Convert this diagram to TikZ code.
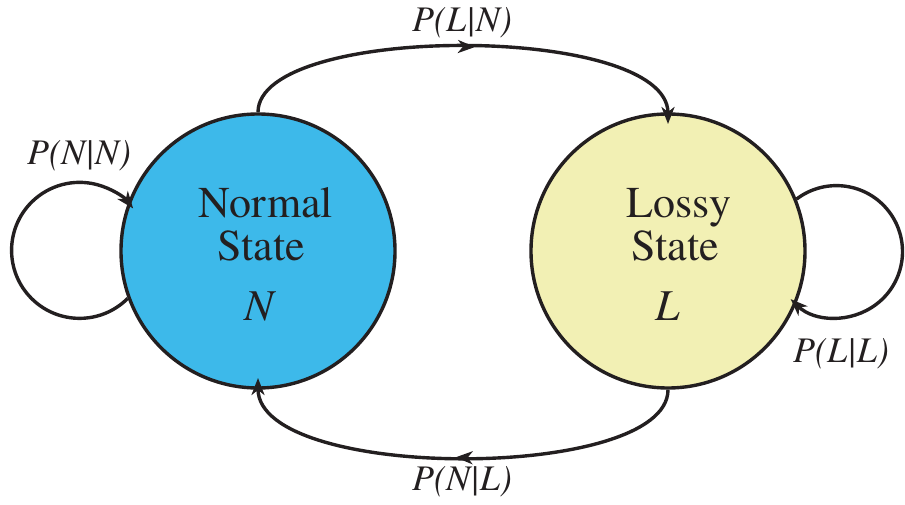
\documentclass[tikz,border=0pt]{standalone}
\usepackage{fontspec}
\newfontfamily\timesface{texgyretermes}[
  Extension=.otf,
  UprightFont=*-regular,
  ItalicFont=*-italic,
  BoldFont=*-bold,
  BoldItalicFont=*-bolditalic]
\usetikzlibrary{arrows.meta,decorations.markings}

\definecolor{normalblue}{RGB}{61,185,234}
\definecolor{lossyyellow}{RGB}{242,240,180}
\definecolor{ink}{RGB}{35,31,32}

\tikzset{
  statecircle/.style={circle, draw=ink, line width=3.4pt, minimum size=274pt, inner sep=0pt},
  statetext/.style={anchor=base, text=ink, inner sep=0pt, font=\timesface\fontsize{44}{44}\selectfont},
  problabel/.style={anchor=base, text=ink, inner sep=0pt, font=\timesface\fontsize{36}{36}\selectfont\itshape},
  tip/.tip={Stealth[length=17pt, width=13pt, inset=5pt]},
  link/.style={draw=ink, line width=3.4pt},
  midarrow/.style={postaction={decorate, decoration={markings, mark=at position #1 with {\arrow{tip}}}}}
}

\begin{document}
\begin{tikzpicture}[x=1pt, y=1pt]
  \useasboundingbox (0,0) rectangle (905,504);

  % the two states
  \node[statecircle, fill=normalblue] (N) at (258,253) {};
  \node[statecircle, fill=lossyyellow] (L) at (668,253) {};

  \node[statetext] (ntitle1) at (266,286) {Normal};
  \node[statetext] (ntitle2) at (261.5,243) {State};
  \node[statetext] (nsym) at (259.5,184) {\itshape N};

  \node[statetext] (ltitle1) at (679,286) {Lossy};
  \node[statetext] (ltitle2) at (675.5,243) {State};
  \node[statetext] (lsym) at (667.5,184) {\itshape L};

  % transitions between the states
  \coordinate (toL) at (668,380);
  \coordinate (toN) at (258,126);
  \draw[link, midarrow=0.52, -tip] (N.north) .. controls (258,481) and (668,481) .. (toL);
  \draw[link, midarrow=0.51, -tip] (L.south) .. controls (668,22) and (258,22) .. (toN);

  % self loops
  \draw[link, -tip] (N.200.3) arc[start angle=-45, end angle=-322, radius=68];
  \draw[link, -tip] (L.22.3) arc[start angle=127.2, end angle=-134, radius=66];

  % transition probabilities
  \node[problabel] (pLN) at (462,472) {P(L|N)};
  \node[problabel] (pNL) at (462,14) {P(N|L)};
  \node[problabel] (pNN) at (79,339) {P(N|N)};
  \node[problabel] (pLL) at (841,142) {P(L|L)};
\end{tikzpicture}
\end{document}
